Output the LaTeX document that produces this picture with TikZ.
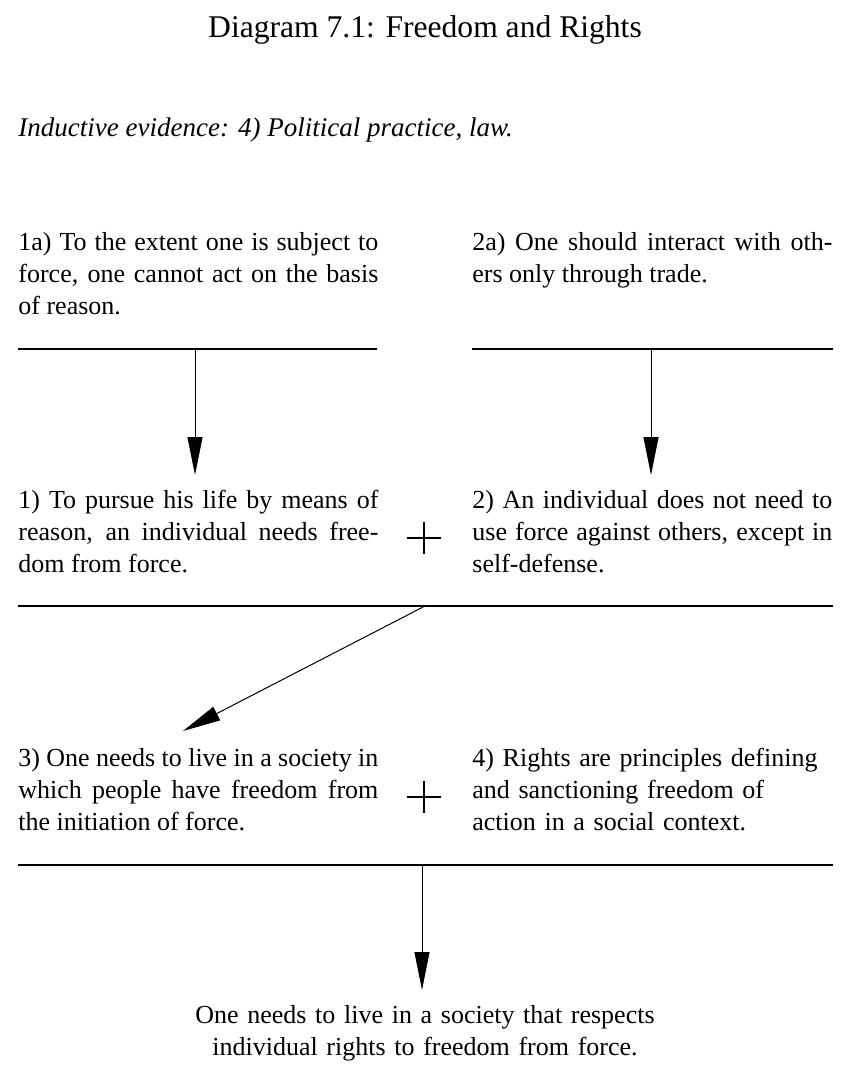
\documentclass[tikz,border=0pt]{standalone}
\usepackage{fontspec}
\setmainfont{Liberation Serif}
\usetikzlibrary{arrows.meta,positioning}
\tolerance=9999
\hyphenpenalty=10000
\tikzset{
  >={Triangle[length=19pt,width=7.5pt]},
  rule/.style={line width=0.65pt},
  conn/.style={->, line width=0.5pt},
  claim/.style={anchor=base west, inner sep=0pt, text width=180pt, align=justify,
    font=\fontsize{13}{16}\selectfont},
}

\begin{document}
\begin{tikzpicture}[x=0.5pt, y=-0.5pt]
  \tikzset{
    plus/.style={line width=1.45pt},
    title/.style={anchor=base, inner sep=0pt, font=\fontsize{15.8}{18}\selectfont},
    note/.style={anchor=base west, inner sep=0pt, font=\fontsize{13.5}{16}\selectfont\itshape}
  }
  \useasboundingbox (0,0) rectangle (851,1079);

  \def\colL{18}  \def\colR{472}
  \def\endL{377} \def\endR{833}

  % heading
  \node[title] (head) at (425,38) {Diagram 7.1: Freedom and Rights};
  \node[note] (evid) at (\colL,137) {Inductive evidence: 4) Political practice, law.};

  % first tier
  \node[claim] (c1a) at (\colL,251) {1a) To the extent one is subject to\linebreak
    force, one cannot act on the basis\linebreak of reason.};
  \node[claim] (c2a) at (\colR,251) {2a) One should interact with oth-\linebreak
    ers only through trade.};
  \draw[rule] (\colL,349) -- (\endL,349);
  \draw[rule] (\colR,349) -- (\endR,349);

  % second tier
  \node[claim] (c1) at (\colL,508) {1) To pursue his life by means of\linebreak
    reason, an individual needs free-\linebreak dom from force.};
  \node[claim] (c2) at (\colR,508) {2) An individual does not need to\linebreak
    use force against others, except in\linebreak self-defense.};
  \draw[rule] (\colL,606) -- (\endR,606);

  % third tier
  \node[claim] (c3) at (\colL,766) {3) One needs to live in a society in\linebreak
    which people have freedom from\linebreak the initiation of force.};
  \node[claim, align=left] (c4) at (\colR,766) {4) Rights are principles defining\\
    and sanctioning freedom of\\ action in a social context.};
  \draw[rule] (\colL,865) -- (\endR,865);

  % conclusion
  \node[claim, anchor=base, text width=300pt, align=center] (concl) at (425,1023)
    {One needs to live in a society that respects\\ individual rights to freedom from force.};

  % plus signs
  \foreach \py in {538,797} {
    \draw[plus] (407,\py) -- (441,\py) (424,\py-16) -- (424,\py+16);
  }

  % inference arrows
  \coordinate (r1a) at (195,349);  \coordinate (t1) at (195,475);
  \coordinate (r2a) at (651,349);  \coordinate (t2) at (651,475);
  \coordinate (r12) at (425,606);  \coordinate (t3) at (183,731);
  \coordinate (r34) at (422,865);  \coordinate (tc) at (422,990);
  \draw[conn] (r1a) -- (t1);
  \draw[conn] (r2a) -- (t2);
  \draw[conn] (r12) -- (t3);
  \draw[conn] (r34) -- (tc);
\end{tikzpicture}
\end{document}
